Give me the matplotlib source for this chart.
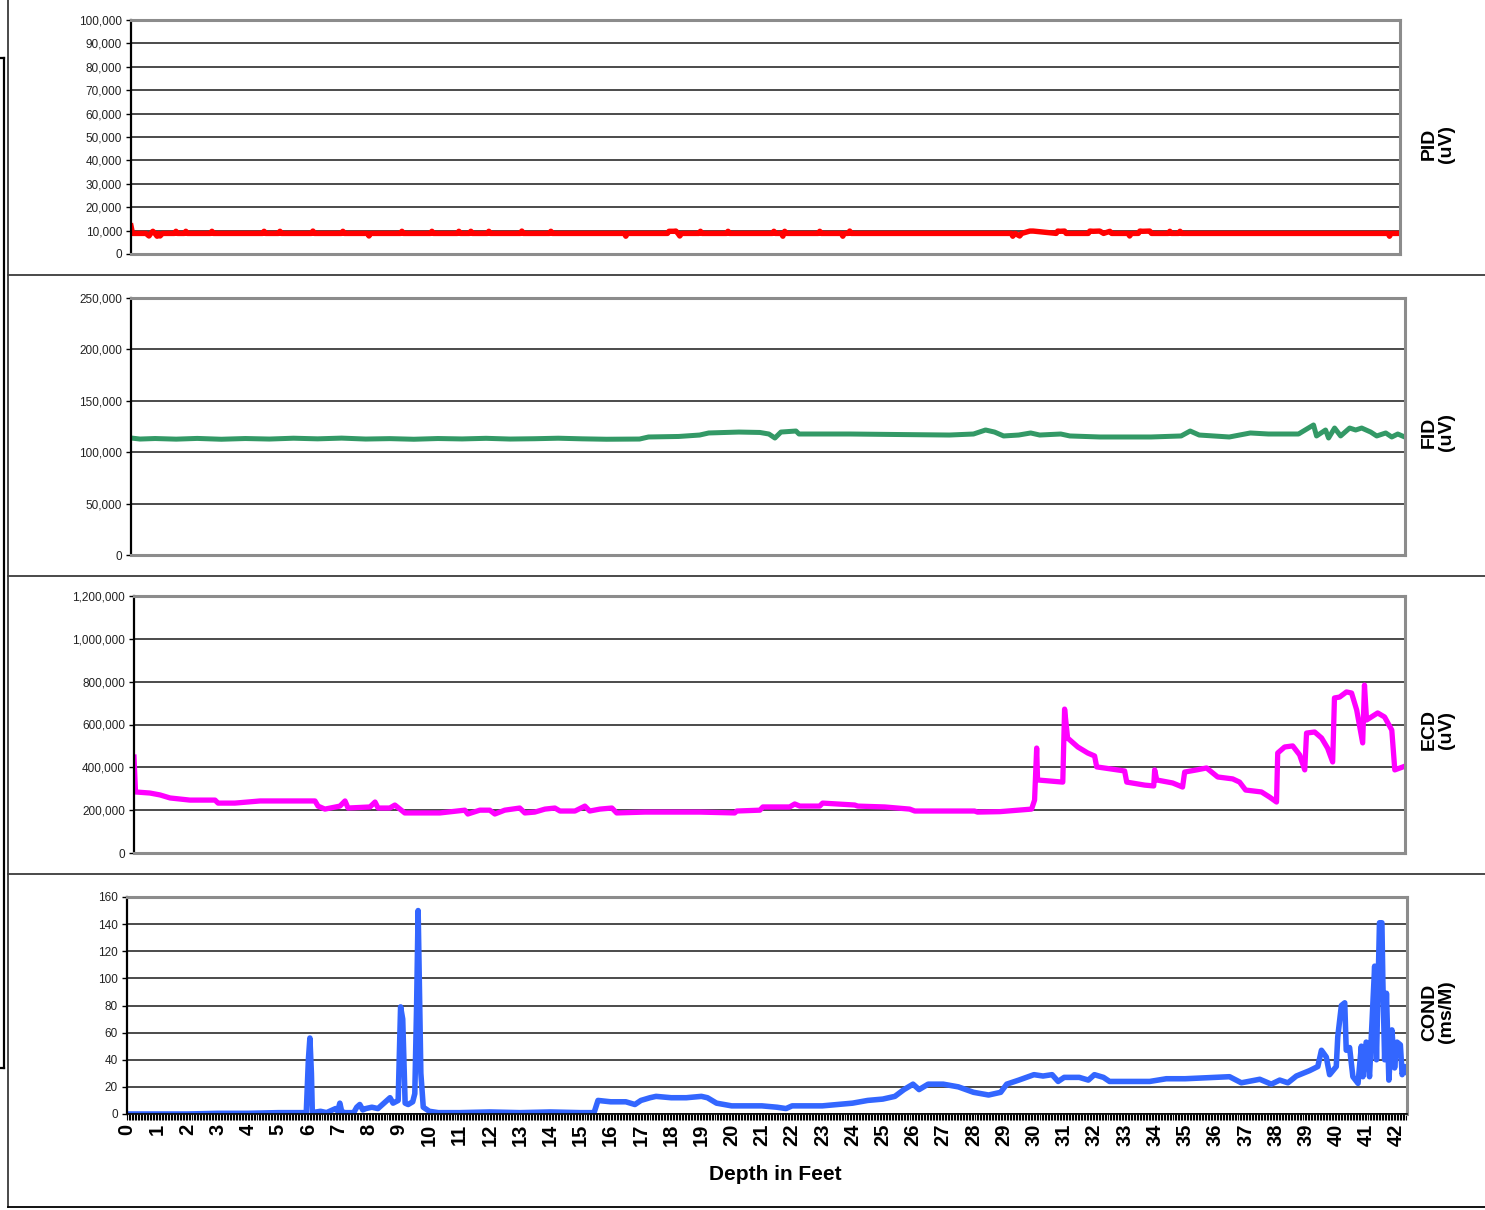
"""
Borehole log: PID / FID / ECD / COND versus depth, four stacked panels.
"""

import matplotlib
matplotlib.use("Agg")
import matplotlib.pyplot as plt
from matplotlib.lines import Line2D
from matplotlib.ticker import FuncFormatter, MultipleLocator

plt.rcParams["font.family"] = ["Liberation Sans", "DejaVu Sans"]

# -------------------------------------------------------------------------
# Data
# -------------------------------------------------------------------------
pid_depth = [0.0, 0.05, 0.5, 0.6, 0.66, 0.73, 0.8, 0.87, 0.92, 0.97, 1.05,
             1.45, 1.5, 1.55, 1.78, 1.83, 1.88, 2.65, 2.7, 2.75, 4.39, 4.44,
             4.49, 4.92, 4.97, 5.02, 6.02, 6.07, 6.12, 7.02, 7.07, 7.12,
             7.89, 7.94, 7.99, 8.99, 9.04, 9.09, 9.99, 10.04, 10.09, 10.89,
             10.94, 10.99, 11.29, 11.34, 11.39, 11.89, 11.94, 11.99, 12.99,
             13.04, 13.09, 13.96, 14.01, 14.06, 16.46, 16.51, 16.56, 17.9,
             17.95, 18.1, 18.18, 18.25, 18.31, 18.37, 18.95, 19.0, 19.05,
             19.87, 19.92, 19.97, 21.4, 21.45, 21.5, 21.7, 21.75, 21.81,
             21.87, 22.93, 22.98, 23.03, 23.7, 23.75, 23.8, 23.93, 23.98,
             24.03, 29.37, 29.42, 29.5, 29.65, 29.72, 29.99, 30.1, 30.87,
             30.92, 31.0, 31.15, 31.2, 31.94, 31.99, 32.1, 32.32, 32.45,
             32.66, 32.72, 33.27, 33.32, 33.37, 33.61, 33.66, 33.75, 33.99,
             34.05, 34.61, 34.66, 34.71, 34.95, 35.0, 35.05, 41.94, 41.99,
             42.04, 42.33]
pid_value = [12000, 8800, 8800, 7700, 8800, 9700, 8800, 7600, 8800, 7700, 8800,
             8800, 9700, 8800, 8800, 9700, 8800, 8800, 9700, 8800, 8800, 9700,
             8800, 8800, 9700, 8800, 8800, 9800, 8800, 8800, 9700, 8800,
             8800, 7700, 8800, 8800, 9700, 8800, 8800, 9700, 8800, 8800,
             9700, 8800, 8800, 9700, 8800, 8800, 9700, 8800, 8800,
             9800, 8800, 8800, 9700, 8800, 8800, 7600, 8800, 8800,
             9700, 9700, 9800, 8800, 7700, 8800, 8800, 9700, 8800,
             8800, 9700, 8800, 8800, 9700, 8800, 8800, 7600, 9700,
             8800, 8800, 9700, 8800, 8800, 7600, 8800, 8800, 9800,
             8800, 8800, 7600, 8800, 7700, 8800, 9800, 9800, 8800,
             9800, 9700, 9800, 8800, 8800, 9800, 9700, 9800, 8800,
             9700, 8800, 8800, 7700, 8800, 8800, 9800, 9700, 9800,
             8800, 8800, 9700, 8800, 8800, 9700, 8800, 8800, 7600,
             8800, 8800]

fid_depth = [0.0, 0.3, 0.8, 1.5, 2.2, 3.0, 3.8, 4.6, 5.4, 6.2, 7.0, 7.8,
             8.6, 9.4, 10.2, 11.0, 11.8, 12.6, 13.4, 14.2, 15.0, 15.8,
             16.9, 17.2, 18.2, 18.9, 19.2, 20.2, 20.9, 21.2, 21.4, 21.6,
             22.1, 22.2, 23.9, 25.5, 27.2, 28.0, 28.4, 28.7, 29.0, 29.5,
             29.9, 30.2, 30.9, 31.2, 32.2, 33.9, 34.9, 35.2, 35.5, 36.5,
             37.2, 37.8, 38.8, 39.3, 39.4, 39.7, 39.8, 40.0, 40.2, 40.5,
             40.7, 40.9, 41.2, 41.4, 41.7, 41.9, 42.1, 42.33]
fid_value = [113800, 112800, 113300, 112700, 113400, 112600, 113300, 112800,
             113600, 113000, 113700, 112800, 113200, 112600, 113300, 112900,
             113500, 112800, 113100, 113600, 113000, 112600, 112800, 114800,
             115300, 116700, 118700, 119600, 119200, 117700, 113800, 119600,
             120600, 117700, 117700, 117200, 116700, 117700, 121600, 119600,
             115800, 116700, 118700, 116700, 117700, 115800, 114800, 114800,
             115800, 120600, 116700, 114800, 118700, 117700, 117700, 126500,
             115800, 121600, 113800, 123500, 115800, 123500, 121600, 123500,
             119600, 115800, 118700, 114800, 117700, 114800]

ecd_depth = [0.0, 0.05, 0.53, 0.87, 1.2, 1.86, 2.7, 2.8, 3.36, 4.2, 6.03,
             6.13, 6.36, 6.86, 7.03, 7.13, 7.86, 8.03, 8.13, 8.52, 8.69,
             9.02, 10.19, 11.02, 11.12, 11.52, 11.85, 12.02, 12.35, 12.85,
             13.02, 13.35, 13.69, 14.02, 14.19, 14.69, 15.02, 15.18, 15.52,
             15.92, 16.08, 17.02, 18.85, 20.01, 20.08, 20.85, 20.95, 21.84,
             22.01, 22.18, 22.84, 22.94, 24.01, 24.11, 25.01, 25.84, 26.01,
             28.0, 28.1, 28.84, 29.9, 30.0, 30.07, 30.1, 30.94, 31.0, 31.1,
             31.44, 31.77, 32.0, 32.07, 33.0, 33.07, 33.67, 33.97, 34.0,
             34.07, 34.6, 34.93, 35.0, 35.4, 35.73, 36.1, 36.6, 36.83, 37.03,
             37.56, 37.83, 38.06, 38.1, 38.33, 38.6, 38.83, 39.0, 39.06,
             39.33, 39.56, 39.76, 39.93, 39.99, 40.16, 40.39, 40.56, 40.73,
             40.93, 40.99, 41.06, 41.43, 41.66, 41.9, 42.0, 42.33]
ecd_value = [448000, 285000, 280000, 271000, 257000, 247000, 247000, 233000,
             233000, 243000, 243000, 219000, 205000, 219000, 243000, 210000,
             215000, 238000, 210000, 210000, 224000, 187000, 187000, 200000,
             182000, 200000, 200000, 182000, 200000, 210000, 187000, 191000,
             205000, 210000, 196000, 196000, 219000, 196000, 205000, 210000,
             187000, 191000, 191000, 187000, 196000, 200000, 215000, 215000,
             229000, 219000, 219000, 233000, 224000, 219000, 215000, 205000,
             196000, 196000, 191000, 193000, 205000, 247000, 490000, 341000,
             331000, 672000, 537000, 495000, 467000, 453000, 402000, 383000,
             331000, 317000, 313000, 388000, 341000, 327000, 308000, 378000,
             388000, 397000, 355000, 346000, 331000, 294000, 285000, 261000,
             238000, 467000, 495000, 500000, 458000, 388000, 560000, 565000,
             537000, 490000, 425000, 724000, 728000, 752000, 747000, 668000,
             514000, 784000, 621000, 654000, 635000, 574000, 388000, 405000]

cond_depth = [0.0, 1.0, 2.0, 3.0, 4.0, 5.0, 5.5, 5.93, 6.0, 6.05, 6.1, 6.13,
              6.4, 6.6, 6.9, 6.97, 7.04, 7.1, 7.2, 7.5, 7.6, 7.7, 7.8, 7.9,
              8.1, 8.3, 8.5, 8.7, 8.8, 8.97, 9.05, 9.12, 9.2, 9.3, 9.45,
              9.52, 9.58, 9.63, 9.72, 9.8, 10.0, 10.3, 11.0, 12.0, 13.0, 14.0,
              15.0, 15.45, 15.58, 16.0, 16.5, 16.8, 17.0, 17.3, 17.5, 18.0,
              18.5, 19.0, 19.2, 19.5, 20.0, 21.0, 21.5, 21.8, 22.0, 23.0,
              24.0, 24.5, 25.0, 25.4, 25.7, 26.0, 26.2, 26.5, 27.0, 27.5,
              28.0, 28.5, 28.9, 29.1, 29.5, 30.0, 30.3, 30.6, 30.8, 31.0,
              31.5, 31.8, 32.0, 32.3, 32.5, 33.0, 33.83, 34.38, 35.0, 36.0,
              36.47, 36.86, 37.47, 37.85, 38.13, 38.4, 38.68, 39.12, 39.39,
              39.51, 39.67, 39.78, 40.0, 40.05, 40.17, 40.28, 40.33, 40.44,
              40.55, 40.72, 40.83, 40.88, 40.99, 41.1, 41.16, 41.27, 41.33,
              41.43, 41.51, 41.54, 41.6, 41.66, 41.74, 41.84, 41.93, 42.01,
              42.12, 42.18, 42.26, 42.34]
cond_value = [0, 0, 0, 0.5, 0.5, 1, 1, 1, 40, 56, 30, 1,
              2, 1, 4, 2, 8, 2, 1, 1, 5, 7, 3, 4,
              5, 4, 8, 12, 8, 10, 79, 70, 8, 7, 9,
              15, 80, 150, 30, 5, 2, 1, 1, 1.5, 1, 1.5,
              1, 1, 10, 9, 9, 7, 10, 12, 13, 12,
              12, 13, 12, 8, 6, 6, 5, 4, 6, 6,
              8, 10, 11, 13, 18, 22, 18, 22, 22, 20,
              16, 14, 16, 22, 25, 29, 28, 29, 24, 27,
              27, 25, 29, 27, 24, 24, 24, 26, 26, 27,
              27.5, 23, 25.6, 22, 25, 23, 28, 32, 35,
              47, 42, 29, 35, 57, 80, 82, 47, 49,
              27.5, 22.6, 50, 27.5, 53, 27.5, 57, 109, 40,
              141, 141, 99, 40, 89, 25, 62, 34, 53,
              51, 29, 35, 31]

depth_ticks = list(range(0, 43))
X_MAX = 42.34

W, H = 1485, 1210  # output size in pixels


def px_rect(left, top, right, bottom):
    """Axes rectangle from pixel edges (y measured from the top)."""
    return [left / W, 1 - bottom / H, (right - left) / W, (bottom - top) / H]


def style_panel(ax, ymax, ystep):
    ax.set_xlim(0, X_MAX)
    ax.set_ylim(0, ymax)
    ax.set_yticks(range(0, ymax + 1, ystep))
    ax.yaxis.set_major_formatter(FuncFormatter(lambda v, p: f"{v:,.0f}"))
    ax.tick_params(axis="y", direction="out", length=3.5, width=1,
                   labelsize=8.5, labelcolor="#222222", pad=3)
    ax.grid(axis="y", color="#1a1a1a", lw=1.1)
    ax.set_axisbelow(True)
    ax.spines["left"].set_color("black")
    ax.spines["left"].set_linewidth(1.6)
    for side in ("top", "right", "bottom"):
        ax.spines[side].set_color("#8c8c8c")
        ax.spines[side].set_linewidth(2.2)


fig = plt.figure(figsize=(W / 100, H / 100), dpi=100)

# --- PID ---
ax1 = fig.add_axes(px_rect(131, 20, 1400, 254))
style_panel(ax1, 100000, 10000)
ax1.plot(pid_depth, pid_value, color="#ff0000", lw=3.9, solid_joinstyle="round")
ax1.set_xticks([])

# --- FID ---
ax2 = fig.add_axes(px_rect(131, 298, 1405, 555))
style_panel(ax2, 250000, 50000)
ax2.plot(fid_depth, fid_value, color="#339966", lw=3.6, solid_joinstyle="round")
ax2.set_xticks([])

# --- ECD ---
ax3 = fig.add_axes(px_rect(134, 596, 1405, 853))
style_panel(ax3, 1200000, 200000)
ax3.plot(ecd_depth, ecd_value, color="#ff00ff", lw=3.8, solid_joinstyle="round")
ax3.set_xticks([])

# --- COND ---
ax4 = fig.add_axes(px_rect(127, 897, 1407, 1114))
style_panel(ax4, 160, 20)
ax4.plot(cond_depth, cond_value, color="#3366ff", lw=4.0, solid_joinstyle="round")
ax4.spines["bottom"].set_color("black")
ax4.spines["bottom"].set_linewidth(1.2)
ax4.set_xticks(depth_ticks)
ax4.set_xticklabels([str(t) for t in depth_ticks], rotation=90,
                    fontsize=14.5, fontweight="bold")
ax4.xaxis.set_minor_locator(MultipleLocator(0.05))
ax4.tick_params(axis="x", which="both", direction="out", length=4.5,
                width=0.8, color="black", pad=2.5)

# right-hand panel labels
for name, ycen in [("PID\n(uV)", 144), ("FID\n(uV)", 432),
                   ("ECD\n(uV)", 730), ("COND\n(ms/M)", 1012)]:
    fig.text(1438 / W, 1 - ycen / H, name, rotation=90, ha="center",
             va="center", multialignment="center", fontsize=14,
             fontweight="bold", linespacing=1.0)

fig.text(775 / W, 1 - 1174 / H, "Depth in Feet", ha="center", va="center",
         fontsize=15, fontweight="bold")

# --- frame lines around / between panels ---
def hline(y, x0, x1, color="#3c3c3c", lw=1.3):
    fig.add_artist(Line2D([x0 / W, x1 / W], [1 - y / H, 1 - y / H],
                          color=color, lw=lw))


def vline(x, y0, y1, color="#3c3c3c", lw=1.3):
    fig.add_artist(Line2D([x / W, x / W], [1 - y0 / H, 1 - y1 / H],
                          color=color, lw=lw))


vline(8, 0, 1207)
for ysep in (275, 576, 874):
    hline(ysep, 8, W)
hline(1207, 8, W, color="black")

# small box at the far left edge
hline(58, 0, 4, color="black", lw=1.6)
vline(4, 58, 1068, color="black", lw=1.6)
hline(1068, 0, 4, color="black", lw=1.6)

fig.savefig("out.png", dpi=100)
